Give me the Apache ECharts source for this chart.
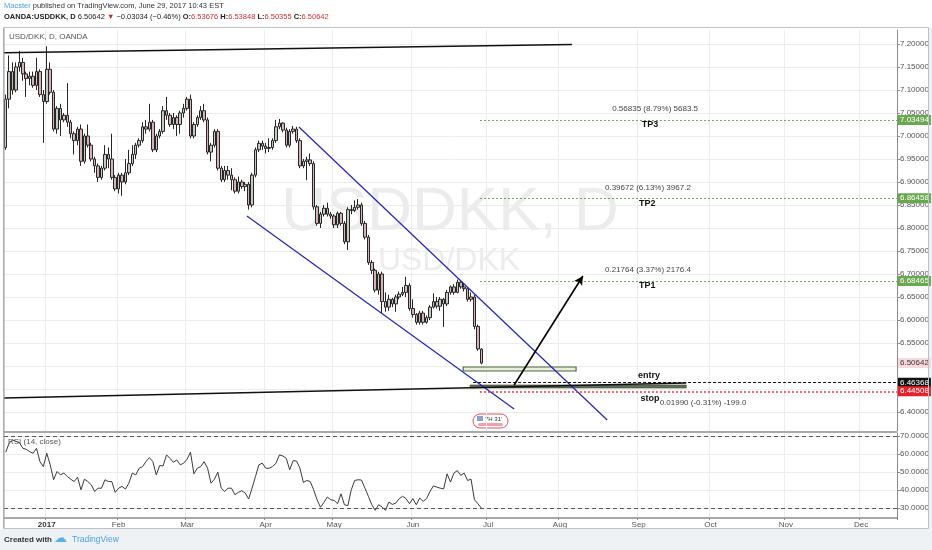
<!DOCTYPE html>
<html>
<head>
<meta charset="utf-8">
<script src="https://cdn.jsdelivr.net/npm/echarts@6.0.0/dist/echarts.min.js"></script>
<style>
    html, body { margin: 0; padding: 0; background: #fff; }
    #chart { width: 932px; height: 550px; }
</style>
</head>
<body>
<div id="chart"></div>
<script>
// trading days (weekdays, feed holidays skipped)
var holidays = ['2016-12-26', '2017-01-02'];
var dates = [];
(function () {
    var d = new Date(Date.UTC(2016, 11, 14));
    while (dates.length < 261) {
        var wd = d.getUTCDay();
        var s = d.toISOString().slice(0, 10);
        if (wd !== 0 && wd !== 6 && holidays.indexOf(s) < 0) dates.push(s);
        d.setUTCDate(d.getUTCDate() + 1);
    }
})();

var monthStarts = ['2017-01-03', '2017-02-01', '2017-03-01', '2017-04-03', '2017-05-01', '2017-06-01',
    '2017-07-03', '2017-08-01', '2017-09-01', '2017-10-02', '2017-11-01', '2017-12-01'];
var monthLabels = ['2017', 'Feb', 'Mar', 'Apr', 'May', 'Jun', 'Jul', 'Aug', 'Sep', 'Oct', 'Nov', 'Dec'];

// daily candles: [open, close, low, high]
var ohlc = [
    [6.975, 7.08, 6.97, 7.09], [7.08, 7.14, 7.06, 7.175], [7.14, 7.10, 7.09, 7.16], [7.10, 7.15, 7.095, 7.16],
    [7.15, 7.16, 7.14, 7.185], [7.16, 7.135, 7.12, 7.17], [7.135, 7.125, 7.085, 7.14], [7.125, 7.13, 7.11, 7.14],
    [7.13, 7.11, 7.105, 7.14], [7.11, 7.14, 7.10, 7.17], [7.14, 7.09, 7.085, 7.145], [7.09, 7.075, 6.985, 7.10],
    [7.075, 7.145, 7.07, 7.195], [7.145, 7.095, 7.09, 7.16], [7.095, 7.015, 7.01, 7.10], [7.015, 7.06, 7.005, 7.065],
    [7.06, 7.035, 7.0, 7.07], [7.035, 7.045, 7.03, 7.05], [7.045, 7.03, 7.02, 7.115], [7.03, 7.005, 6.995, 7.035],
    [7.005, 6.99, 6.96, 7.01], [6.99, 7.015, 6.98, 7.02], [7.015, 6.945, 6.935, 7.025], [6.945, 7.0, 6.94, 7.005],
    [7.0, 6.98, 6.975, 7.025], [6.98, 6.95, 6.945, 6.985], [6.95, 6.935, 6.92, 6.955], [6.935, 6.91, 6.90, 6.94],
    [6.91, 6.93, 6.905, 6.935], [6.93, 6.96, 6.925, 6.98], [6.96, 6.95, 6.93, 6.975], [6.95, 6.91, 6.905, 7.005],
    [6.91, 6.885, 6.88, 6.915], [6.885, 6.915, 6.875, 6.92], [6.915, 6.90, 6.87, 6.92], [6.90, 6.92, 6.895, 6.95],
    [6.92, 6.94, 6.915, 6.97], [6.94, 6.96, 6.935, 6.98], [6.96, 6.98, 6.95, 6.985], [6.98, 6.99, 6.975, 6.995],
    [6.99, 7.02, 6.985, 7.03], [7.02, 7.015, 7.005, 7.035], [7.015, 7.03, 7.01, 7.07], [7.03, 6.97, 6.965, 7.035],
    [6.97, 7.0, 6.965, 7.005], [7.0, 7.01, 6.995, 7.015], [7.01, 7.055, 7.005, 7.065], [7.055, 7.045, 7.035, 7.085],
    [7.045, 7.025, 7.02, 7.05], [7.025, 7.04, 7.015, 7.05], [7.04, 7.025, 7.0, 7.045], [7.025, 7.05, 7.005, 7.055],
    [7.05, 7.06, 7.04, 7.07], [7.06, 7.08, 7.055, 7.085], [7.08, 7.0, 6.995, 7.09], [7.0, 7.025, 6.995, 7.03],
    [7.025, 7.04, 7.02, 7.045], [7.04, 7.055, 7.035, 7.065], [7.055, 7.035, 7.03, 7.07], [7.035, 6.965, 6.96, 7.04],
    [6.965, 6.98, 6.945, 6.985], [6.98, 7.01, 6.975, 7.015], [7.01, 6.93, 6.925, 7.015], [6.93, 6.905, 6.90, 6.935],
    [6.905, 6.925, 6.90, 6.935], [6.925, 6.915, 6.905, 6.935], [6.915, 6.905, 6.882, 6.93], [6.905, 6.88, 6.875, 6.91],
    [6.88, 6.90, 6.875, 6.912], [6.90, 6.89, 6.885, 6.905], [6.89, 6.895, 6.88, 6.90], [6.895, 6.85, 6.84, 6.90],
    [6.85, 6.915, 6.845, 6.92], [6.915, 6.97, 6.91, 6.975], [6.97, 6.984, 6.965, 6.99], [6.984, 6.978, 6.97, 6.99],
    [6.978, 6.973, 6.962, 6.985], [6.973, 6.975, 6.965, 6.995], [6.975, 6.99, 6.97, 6.995], [6.99, 7.02, 6.985, 7.035],
    [7.02, 7.028, 7.015, 7.037], [7.028, 7.013, 7.008, 7.03], [7.013, 6.98, 6.975, 7.018], [6.98, 7.01, 6.975, 7.015],
    [7.01, 7.015, 7.005, 7.022], [7.015, 6.99, 6.985, 7.02], [6.99, 6.935, 6.93, 6.995], [6.935, 6.945, 6.93, 6.95],
    [6.945, 6.948, 6.904, 6.955], [6.948, 6.94, 6.935, 6.962], [6.94, 6.846, 6.84, 6.945], [6.846, 6.81, 6.805, 6.85],
    [6.81, 6.83, 6.80, 6.835], [6.83, 6.843, 6.825, 6.85], [6.843, 6.83, 6.825, 6.855], [6.83, 6.826, 6.82, 6.835],
    [6.826, 6.807, 6.80, 6.83], [6.807, 6.832, 6.80, 6.836], [6.832, 6.81, 6.805, 6.835], [6.81, 6.77, 6.765, 6.815],
    [6.77, 6.84, 6.752, 6.845], [6.84, 6.838, 6.83, 6.85], [6.838, 6.845, 6.835, 6.86], [6.845, 6.85, 6.84, 6.863],
    [6.85, 6.81, 6.805, 6.855], [6.81, 6.78, 6.775, 6.815], [6.78, 6.725, 6.72, 6.785], [6.725, 6.708, 6.70, 6.73],
    [6.708, 6.665, 6.66, 6.712], [6.665, 6.70, 6.655, 6.705], [6.70, 6.64, 6.615, 6.705], [6.64, 6.628, 6.618, 6.66],
    [6.628, 6.645, 6.62, 6.655], [6.645, 6.635, 6.628, 6.648], [6.635, 6.65, 6.618, 6.655], [6.65, 6.656, 6.645, 6.662],
    [6.656, 6.66, 6.652, 6.672], [6.66, 6.675, 6.65, 6.694], [6.675, 6.625, 6.62, 6.68], [6.625, 6.612, 6.605, 6.645],
    [6.612, 6.595, 6.59, 6.615], [6.595, 6.615, 6.59, 6.62], [6.615, 6.595, 6.59, 6.62], [6.595, 6.605, 6.592, 6.61],
    [6.605, 6.628, 6.60, 6.632], [6.628, 6.64, 6.625, 6.658], [6.64, 6.63, 6.625, 6.65], [6.63, 6.645, 6.62, 6.65],
    [6.645, 6.635, 6.585, 6.648], [6.635, 6.66, 6.63, 6.665], [6.66, 6.672, 6.655, 6.675], [6.672, 6.66, 6.655, 6.678],
    [6.66, 6.682, 6.658, 6.688], [6.682, 6.672, 6.668, 6.686], [6.672, 6.668, 6.662, 6.68], [6.668, 6.645, 6.64, 6.672],
    [6.645, 6.65, 6.64, 6.66], [6.65, 6.586, 6.58, 6.655], [6.586, 6.537, 6.533, 6.59], [6.53676, 6.50642, 6.50355, 6.53848]
];

// RSI(14, close)
var rsi = [
    61, 66, 67.8, 67, 66.3, 63.2, 62.6, 61.3, 60.4, 63.2,
    55.8, 53, 60.4, 54, 45.7, 50.3, 48.4, 49.4, 47.5, 46,
    44.7, 47.1, 40.1, 46, 44.7, 42.9, 39.2, 41, 41, 45.7,
    44.7, 44.7, 38.7, 41, 42, 40.5, 43.8, 49.4, 48.4, 52.1,
    53, 55.8, 58, 55.8, 48.4, 53.6, 53.4, 59.5, 57.6, 55.4,
    56.7, 54, 54.9, 57.1, 61, 49, 52.1, 53, 55.8, 52.1,
    43.8, 46, 49.9, 41, 39.2, 41, 41, 37.4, 38.7, 39.6,
    38.3, 35, 41, 47.5, 54, 54.9, 52.1, 52.1, 53, 54.9,
    59.5, 58.9, 57.6, 51.2, 56.3, 56.1, 52.1, 44.2, 45.3, 44.7,
    40.1, 34.6, 30.4, 33.1, 36.1, 34.6, 34.2, 32.4, 37.9, 31.8,
    31.3, 40.1, 45.3, 45.7, 45.5, 41, 36.5, 31.8, 28.7, 31.8,
    30.6, 28.7, 33.3, 32, 32.7, 35.2, 36.5, 35.2, 32.4, 35.2,
    31.8, 35.5, 33.7, 35.2, 39.2, 42.3, 41.6, 41, 40.6, 49,
    44.4, 49.4, 50.8, 48.1, 49.4, 45.3, 46, 34.6, 32.4, 30
];

var priceTicks = [6.40, 6.45, 6.50, 6.55, 6.60, 6.65, 6.70, 6.75, 6.80, 6.85, 6.90, 6.95, 7.00, 7.05, 7.10, 7.15, 7.20];
var priceLabels = [6.40, 6.55, 6.60, 6.65, 6.70, 6.75, 6.80, 6.85, 6.90, 6.95, 7.00, 7.05, 7.10, 7.15, 7.20];
var rsiTicks = [30, 40, 50, 60, 70];
var rsiBands = [30, 70];

// drawings, [bar index, price]
var topLine = [[-0.5, 7.181], [165.5, 7.1987]];
var supportLine = [[-0.5, 6.4304], [198.9, 6.463]];
var channelUpper = [[85.7, 7.0196], [175.8, 6.3826]];
var channelLower = [[70.5, 6.826], [148.6, 6.4065]];
var arrowPath = [[148.6, 6.4587], [168.7, 6.6957]];
var zoneEntry = [[133.7, 6.4978], [166.7, 6.4891]];
var zoneStop = [[135.7, 6.4587], [198.9, 6.4522]];

var lastPrice = 6.50642;
var levels = [
    { name: 'TP3', price: 7.03494, from: 138.6, kind: 'tp' },
    { name: 'TP2', price: 6.86458, from: 138.6, kind: 'tp' },
    { name: 'TP1', price: 6.68465, from: 138.6, kind: 'tp' },
    { name: 'entry', price: 6.46368, from: 136.6, kind: 'entry' },
    { name: 'stop', price: 6.44508, from: 138.6, kind: 'stop' }
];
var notes = [
    { text: '0.56835 (8.79%) 5683.5', at: [189.8, 7.0587], bold: false },
    { text: 'TP3', at: [188.3, 7.0239], bold: true },
    { text: '0.39672 (6.13%) 3967.2', at: [187.7, 6.887], bold: false },
    { text: 'TP2', at: [187.5, 6.8543], bold: true },
    { text: '0.21764 (3.37%) 2176.4', at: [187.7, 6.7087], bold: false },
    { text: 'TP1', at: [187.5, 6.6739], bold: true },
    { text: 'entry', at: [188.0, 6.4783], bold: true },
    { text: 'stop', at: [188.3, 6.4304], bold: true },
    { text: '0.01990 (-0.31%) -199.0', at: [203.8, 6.4196], bold: false }
];

var FONT = 'Liberation Sans, Arial, sans-serif';
var monthMap = {};
monthStarts.forEach(function (d, k) { monthMap[d] = monthLabels[k]; });
function isMonthStart(idx, val) { return monthMap.hasOwnProperty(val); }

var levelStyle = {
    tp: { line: '#6aa84f', type: [2, 2], width: 1, bg: '#6aa84f', fg: '#fff' },
    entry: { line: '#111', type: [3, 2], width: 1, bg: '#111', fg: '#fff' },
    stop: { line: '#e53935', type: [2, 2], width: 1.5, bg: '#e8202a', fg: '#fff' }
};

var levelLines = levels.map(function (lv) {
    var st = levelStyle[lv.kind];
    return [{
        coord: [lv.from, lv.price],
        lineStyle: { color: st.line, type: st.type, width: st.width },
        label: {
            show: true, position: 'end', distance: 1, formatter: lv.price.toFixed(5),
            backgroundColor: st.bg, color: st.fg, fontSize: 8, fontFamily: FONT, padding: [1, 2, 1, 2]
        }
    }, { coord: [260.5, lv.price] }];
});
// current price badge only
levelLines.push([{
    coord: [259.5, lastPrice],
    lineStyle: { color: 'rgba(0,0,0,0)', width: 0 },
    label: {
        show: true, position: 'end', distance: 1, formatter: lastPrice.toFixed(5),
        backgroundColor: '#f7d9dd', color: '#333', fontSize: 8, fontFamily: FONT, padding: [1, 2, 1, 2]
    }
}, { coord: [260.5, lastPrice] }]);
levelLines.push([
    { coord: arrowPath[0], symbol: 'none', lineStyle: { color: '#000', width: 1.6, type: 'solid' }, label: { show: false } },
    { coord: arrowPath[1], symbol: 'arrow', symbolSize: [7, 9] }
]);

var option = {
    backgroundColor: '#fff',
    animation: false,
    grid: [
        { left: 4, right: 35, top: 30, height: 401 },
        { left: 4, right: 35, top: 433, height: 85 }
    ],
    xAxis: [
        {
            type: 'category', gridIndex: 0, data: dates,
            axisLine: { show: false }, axisTick: { show: false }, axisLabel: { show: false, interval: isMonthStart },
            splitLine: { show: true, interval: isMonthStart, lineStyle: { color: '#ececec' } }
        },
        {
            type: 'category', gridIndex: 1, data: dates,
            axisLine: { show: true, lineStyle: { color: '#8c8c8c', width: 1.5 } },
            axisTick: { show: true, interval: isMonthStart, length: 2, lineStyle: { color: '#8c8c8c' } },
            axisLabel: {
                interval: isMonthStart, margin: 3, fontSize: 8, color: '#555', fontFamily: FONT,
                formatter: function (v) { return monthMap[v] === '2017' ? '{b|2017}' : monthMap[v]; },
                rich: { b: { fontWeight: 'bold', fontSize: 8, color: '#333', fontFamily: FONT } }
            },
            splitLine: { show: true, interval: isMonthStart, lineStyle: { color: '#ececec' } }
        },
        { type: 'value', gridIndex: 0, min: -0.5, max: 260.5, show: false }
    ],
    yAxis: [
        {
            type: 'value', gridIndex: 0, position: 'right', min: 6.3587, max: 7.23043,
            axisLine: { show: true, onZero: false, lineStyle: { color: '#8c8c8c' } },
            axisTick: { show: true, customValues: priceTicks, length: 3, lineStyle: { color: '#8c8c8c' } },
            axisLabel: {
                customValues: priceLabels, margin: 3, fontSize: 8, color: '#555', fontFamily: FONT,
                formatter: function (v) { return v.toFixed(5); }
            },
            splitLine: { show: true, lineStyle: { color: '#ececec' } }
        },
        {
            type: 'value', gridIndex: 1, position: 'right', min: 24.444, max: 71.667,
            axisLine: { show: true, onZero: false, lineStyle: { color: '#8c8c8c' } },
            axisTick: { show: true, customValues: rsiTicks, length: 3, lineStyle: { color: '#8c8c8c' } },
            axisLabel: {
                customValues: rsiTicks, margin: 3, fontSize: 8, color: '#555', fontFamily: FONT,
                formatter: function (v) { return v.toFixed(4); }
            },
            splitLine: { show: true, lineStyle: { color: '#ececec' } }
        }
    ],
    graphic: [
        { type: 'rect', z: -10, shape: { x: 0, y: 529, width: 932, height: 21 }, style: { fill: '#eef2f5' } },
        { type: 'rect', z: -10, shape: { x: 929, y: 27, width: 3, height: 523 }, style: { fill: '#eef2f5' } },
        { type: 'rect', z: 100, silent: true, shape: { x: 3.5, y: 27.5, width: 925, height: 501 }, style: { fill: 'none', stroke: '#bcc1c6', lineWidth: 1 } },
        { type: 'line', z: 100, silent: true, shape: { x1: 4, y1: 432, x2: 897, y2: 432 }, style: { stroke: '#8c8c8c', lineWidth: 1.5 } },
        { type: 'line', z: 100, silent: true, shape: { x1: 4, y1: 28, x2: 4, y2: 528 }, style: { stroke: '#9a9a9a', lineWidth: 1 } },
        {
            type: 'text', z: -1, x: 450, y: 213, silent: true,
            style: { text: 'USDDKK, D', font: '62px ' + FONT, fill: '#ececec', textAlign: 'center', textVerticalAlign: 'middle' }
        },
        {
            type: 'text', z: -1, x: 449, y: 261, silent: true,
            style: { text: 'USD/DKK', font: '32px ' + FONT, fill: '#ececec', textAlign: 'center', textVerticalAlign: 'middle' }
        },
        {
            type: 'text', z: 100, x: 4, y: 6,
            style: {
                text: '{a|Macster} published on TradingView.com, June 29, 2017 10:43 EST',
                font: '7.5px ' + FONT, fill: '#333', textVerticalAlign: 'middle',
                rich: { a: { fill: '#4ba3dc', fontSize: 7.5, fontFamily: FONT } }
            }
        },
        {
            type: 'text', z: 100, x: 4, y: 17,
            style: {
                text: '{b|OANDA:USDDKK, D} 6.50642 {r|▼} −0.03034 (−0.46%) {b|O:}{v|6.53676} {b|H:}{v|6.53848} {b|L:}{v|6.50355} {b|C:}{v|6.50642}',
                font: '7.5px ' + FONT, fill: '#222', textVerticalAlign: 'middle',
                rich: {
                    b: { fontWeight: 'bold', fill: '#222', fontSize: 7.5, fontFamily: FONT },
                    r: { fill: '#c62828', fontSize: 7.5, fontFamily: FONT },
                    v: { fill: '#d32f2f', fontSize: 7.5, fontFamily: FONT }
                }
            }
        },
        { type: 'text', z: 100, x: 9, y: 37, style: { text: 'USD/DKK, D, OANDA', font: '8px ' + FONT, fill: '#555', textVerticalAlign: 'middle' } },
        { type: 'text', z: 100, x: 8, y: 442, style: { text: 'RSI (14, close)', font: '8px ' + FONT, fill: '#555', textVerticalAlign: 'middle' } },
        { type: 'text', z: 100, x: 4, y: 540, style: { text: 'Created with', font: 'bold 8px ' + FONT, fill: '#333', textVerticalAlign: 'middle' } },
        { type: 'text', z: 100, x: 54, y: 539, style: { text: '☁', font: '13px DejaVu Sans', fill: '#58b2e4', textVerticalAlign: 'middle' } },
        { type: 'text', z: 100, x: 72, y: 540, style: { text: 'TradingView', font: '8.5px ' + FONT, fill: '#4ba3dc', textVerticalAlign: 'middle' } },
        {
            type: 'group', z: 100, children: [
                { type: 'rect', shape: { x: 473, y: 414, width: 35, height: 14, r: 7 }, style: { fill: '#fff', stroke: '#e0505e', lineWidth: 1 } },
                { type: 'rect', shape: { x: 478, y: 423, width: 25, height: 3, r: 1.5 }, style: { fill: '#f2a0a8' } },
                { type: 'rect', shape: { x: 477, y: 416, width: 6, height: 5 }, style: { fill: '#8aa0d8' } },
                { type: 'text', x: 485, y: 419, style: { text: "7H 31'", font: '6px ' + FONT, fill: '#333', textVerticalAlign: 'middle' } }
            ]
        }
    ],
    series: [
        {
            type: 'candlestick', xAxisIndex: 0, yAxisIndex: 0, data: ohlc, barWidth: 3,
            itemStyle: { color: '#c4cbc0', color0: '#d9b2b8', borderColor: '#262626', borderColor0: '#262626', borderWidth: 1 }
        },
        {
            type: 'line', xAxisIndex: 1, yAxisIndex: 1, data: rsi, symbol: 'none',
            lineStyle: { color: '#3a3a3a', width: 1 },
            markLine: {
                silent: true, symbol: 'none', label: { show: false },
                lineStyle: { color: '#555', type: [4, 3], width: 1 },
                data: rsiBands.map(function (v) { return { yAxis: v }; })
            }
        },
        { type: 'line', xAxisIndex: 2, yAxisIndex: 0, data: topLine, symbol: 'none', silent: true, lineStyle: { color: '#111', width: 1.5 } },
        { type: 'line', xAxisIndex: 2, yAxisIndex: 0, data: channelUpper, symbol: 'none', silent: true, lineStyle: { color: '#2323b8', width: 1.2 } },
        { type: 'line', xAxisIndex: 2, yAxisIndex: 0, data: channelLower, symbol: 'none', silent: true, lineStyle: { color: '#2323b8', width: 1.2 } },
        {
            type: 'line', xAxisIndex: 2, yAxisIndex: 0, data: supportLine, symbol: 'none', silent: true, z: 3,
            lineStyle: { color: '#111', width: 1.5 },
            markArea: {
                silent: true,
                data: [
                    [{ coord: zoneEntry[0], itemStyle: { color: '#e9eddf', borderColor: '#4e6a35', borderWidth: 1.2 } }, { coord: zoneEntry[1] }],
                    [{ coord: zoneStop[0], itemStyle: { color: 'rgba(72,84,62,0.85)', borderColor: '#3a4530', borderWidth: 0.6 } }, { coord: zoneStop[1] }]
                ]
            },
            markLine: { silent: true, symbol: ['none', 'none'], animation: false, data: levelLines },
            markPoint: {
                silent: true, symbol: 'rect', symbolSize: 1, itemStyle: { color: 'rgba(0,0,0,0)' },
                data: notes.map(function (n) {
                    return {
                        coord: n.at, name: n.text,
                        label: {
                            show: true, position: 'inside', formatter: '{b}', fontFamily: FONT,
                            fontSize: n.bold ? 9 : 8, fontWeight: n.bold ? 'bold' : 'normal', color: n.bold ? '#111' : '#444'
                        }
                    };
                })
            }
        }
    ]
};

var myChart = echarts.init(document.getElementById('chart'));
myChart.setOption(option);
window.onresize = function () { myChart.resize(); };
</script>
</body>
</html>
